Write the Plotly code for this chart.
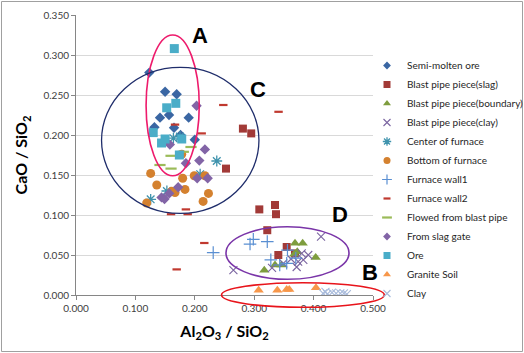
import plotly.graph_objects as go

# ---------------- data ----------------
semi_x = [0.1234, 0.150, 0.1695, 0.1414, 0.1566, 0.1897, 0.132, 0.165, 0.200, 0.176]
semi_y = [0.278, 0.254, 0.251, 0.2217, 0.225, 0.2217, 0.2096, 0.209, 0.194, 0.200]

slag_x = [0.281, 0.295, 0.2525, 0.3086, 0.335, 0.3367, 0.322, 0.3547, 0.3406, 0.3687]
slag_y = [0.208, 0.202, 0.158, 0.107, 0.1125, 0.101, 0.081, 0.060, 0.050, 0.052]

bound_x = [0.3687, 0.3816, 0.3725, 0.4035, 0.317, 0.335, 0.346, 0.3675]
bound_y = [0.0646, 0.0646, 0.054, 0.047, 0.031, 0.0375, 0.0375, 0.051]

pclay_x = [0.4125, 0.265, 0.330, 0.349, 0.380, 0.391, 0.3827, 0.374, 0.3715, 0.362]
pclay_y = [0.073, 0.031, 0.034, 0.0396, 0.052, 0.050, 0.044, 0.0417, 0.035, 0.045]

center_x = [0.175, 0.164, 0.237, 0.209, 0.153, 0.1257]
center_y = [0.198, 0.196, 0.1675, 0.151, 0.130, 0.1196]

bottom_x = [0.1257, 0.136, 0.1796, 0.199, 0.217, 0.1667, 0.1835, 0.223, 0.214, 0.119, 0.161, 0.178]
bottom_y = [0.152, 0.1375, 0.146, 0.149, 0.149, 0.128, 0.132, 0.127, 0.117, 0.115, 0.1296, 0.176]

wall1_x = [0.2985, 0.293, 0.322, 0.356, 0.231, 0.328, 0.3547, 0.370, 0.343]
wall1_y = [0.0696, 0.0637, 0.0667, 0.056, 0.053, 0.044, 0.0396, 0.046, 0.0375]

wall2_x = [0.248, 0.341, 0.1667, 0.2116, 0.216, 0.1695, 0.160, 0.185, 0.188]
wall2_y = [0.2375, 0.229, 0.213, 0.202, 0.065, 0.032, 0.101, 0.107, 0.101]

flow_x = [0.1936, 0.1807, 0.160, 0.1414, 0.160]
flow_y = [0.185, 0.179, 0.174, 0.1625, 0.158]

gate_x = [0.203, 0.158, 0.217, 0.2076, 0.185, 0.204, 0.2217, 0.172, 0.157, 0.144, 0.149]
gate_y = [0.2366, 0.188, 0.182, 0.168, 0.1646, 0.146, 0.146, 0.1346, 0.127, 0.122, 0.120]

ore_x = [0.1655, 0.168, 0.1527, 0.130, 0.150, 0.178, 0.144, 0.174]
ore_y = [0.308, 0.2396, 0.234, 0.203, 0.195, 0.195, 0.190, 0.175]

granite_x = [0.3075, 0.339, 0.3547, 0.359, 0.404]
granite_y = [0.006, 0.006, 0.007, 0.007, 0.009]

clay_x = [0.416, 0.423, 0.431, 0.438, 0.445, 0.451, 0.420, 0.456]
clay_y = [0.002, 0.001, 0.003, 0.002, 0.002, 0.002, 0.004, 0.001]

x_ticks = [0.0, 0.1, 0.2, 0.3, 0.4, 0.5]
y_ticks = [0.0, 0.05, 0.10, 0.15, 0.20, 0.25, 0.30, 0.35]

XMAX, YMAX = 0.5, 0.35
FONT = "Lato"

fig = go.Figure()

def add(name, xs, ys, symbol, color, size, lsize, lw=0):
    line = dict(width=lw, color=color)
    # data marks
    fig.add_trace(go.Scatter(x=xs, y=ys, mode="markers", name=name, showlegend=False,
                             marker=dict(symbol=symbol, color=color, size=size, line=line)))
    # legend sample (smaller symbol, like the original legend)
    fig.add_trace(go.Scatter(x=[None], y=[None], mode="markers", name=name,
                             marker=dict(symbol=symbol, color=color, size=lsize, line=line)))

add("Semi-molten ore", semi_x, semi_y, "diamond", "#3A66A3", 8, 6)
add("Blast pipe piece(slag)", slag_x, slag_y, "square", "#A23A37", 8, 7)
add("Blast pipe piece(boundary)", bound_x, bound_y, "triangle-up", "#7E9D3E", 9, 7)
add("Blast pipe piece(clay)", pclay_x, pclay_y, "x-thin", "#7A64A0", 8, 7, 1.1)
add("Center of furnace", center_x, center_y, "asterisk", "#3F93AD", 9, 7, 1.3)
add("Bottom of furnace", bottom_x, bottom_y, "circle", "#D4812F", 9, 7)
add("Furnace wall1", wall1_x, wall1_y, "cross-thin", "#5A8FD2", 9, 7, 1.2)
add("Furnace wall2", wall2_x, wall2_y, "line-ew", "#C0392F", 6, 5, 2.2)
add("Flowed from blast pipe", flow_x, flow_y, "line-ew", "#9BBB59", 8, 7, 2.2)
add("From slag gate", gate_x, gate_y, "diamond", "#8264A6", 8, 6)
add("Ore", ore_x, ore_y, "square", "#4AADC8", 9, 7)
add("Granite Soil", granite_x, granite_y, "triangle-up", "#F7974A", 9, 7)
add("Clay", clay_x, clay_y, "x-thin", "#A7BADB", 8, 7, 1.1)

L, R, T, B = 76, 151, 15, 58
PW, PH = 524 - L - R, 353 - T - B

def px(x):
    return x / XMAX

def py(y):
    return y / YMAX

shapes = []
def ellipse(x0, x1, y0, y1, color, w=1.6):
    shapes.append(dict(type="circle", xref="paper", yref="paper",
                       x0=px(x0), x1=px(x1), y0=py(y0), y1=py(y1),
                       line=dict(color=color, width=w), layer="above"))

ellipse(0.118, 0.2075, 0.149, 0.325, "#EE1B6C")
ellipse(0.043, 0.308, 0.102, 0.2846, "#1F2D6B", 1.3)
ellipse(0.2525, 0.4596, 0.0196, 0.0854, "#7A35A8")
ellipse(0.245, 0.519, -0.0154, 0.0154, "#E8141B")

# outer chart frame
shapes.append(dict(type="rect", xref="paper", yref="paper",
                   x0=(1.5 - L) / PW, x1=(522.5 - L) / PW,
                   y0=(T + PH - 351.5) / PH, y1=(T + PH - 1.5) / PH,
                   line=dict(color="#A0A0A0", width=1), layer="above"))

annotations = []
for txt, ax, ay in [("A", 0.2088, 0.324), ("C", 0.307, 0.2563), ("D", 0.4444, 0.1012), ("B", 0.495, 0.0287)]:
    annotations.append(dict(text="<b>%s</b>" % txt, x=ax, y=ay, xref="x", yref="y",
                            showarrow=False, font=dict(family="Liberation Sans", size=22, color="black")))

fig.update_layout(
    template="none",
    width=524, height=353,
    margin=dict(l=L, r=R, t=T, b=B, autoexpand=False),
    paper_bgcolor="white", plot_bgcolor="white",
    font=dict(family=FONT, size=10, color="#404040"),
    shapes=shapes, annotations=annotations,
    legend=dict(x=(367 - L) / PW, xanchor="left", y=(T + PH - 51) / PH, yanchor="top",
                font=dict(family=FONT, size=10, color="#262626"),
                bgcolor="rgba(0,0,0,0)", borderwidth=0, itemwidth=30),
    xaxis=dict(range=[0, XMAX], tickvals=x_ticks, tickformat=".3f", automargin=False,
               showgrid=False, zeroline=False, showline=True, linecolor="#868686", linewidth=1,
               ticks="outside", ticklen=4, tickcolor="#868686",
               tickfont=dict(family=FONT, size=10, color="#404040"),
               title=dict(text="<b>Al<sub>2</sub>O<sub>3</sub> / SiO<sub>2</sub></b>",
                          font=dict(family=FONT, size=16, color="black"), standoff=12)),
    yaxis=dict(range=[0, YMAX], tickvals=y_ticks, tickformat=".3f", automargin=False,
               showgrid=True, gridcolor="#D9D9D9", gridwidth=1, zeroline=False,
               showline=True, linecolor="#868686", linewidth=1,
               ticks="outside", ticklen=4, tickcolor="#868686",
               tickfont=dict(family=FONT, size=10, color="#404040"),
               title=dict(text="<b>CaO / SiO<sub>2</sub></b>",
                          font=dict(family=FONT, size=16, color="black"), standoff=11)),
)

fig.write_html("out.html", config={"displayModeBar": False},
               post_script="document.body.style.margin='0';document.body.style.overflow='hidden';")
